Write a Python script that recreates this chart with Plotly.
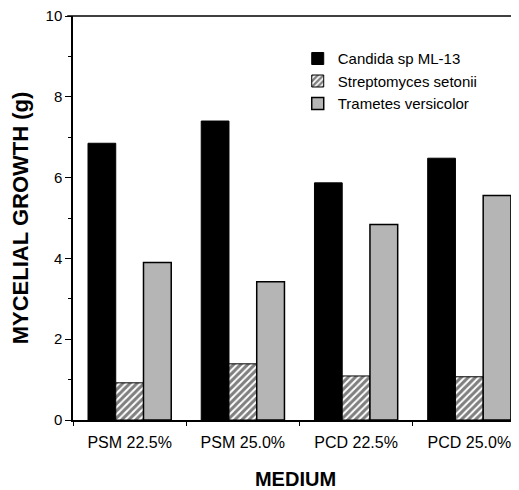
import plotly.graph_objects as go

categories = ["PSM 22.5%", "PSM 25.0%", "PCD 22.5%", "PCD 25.0%"]
candida = [6.85, 7.4, 5.87, 6.48]
streptomyces = [0.92, 1.39, 1.09, 1.07]
trametes = [3.9, 3.42, 4.84, 5.56]
series_names = ["Candida sp ML-13", "Streptomyces setonii", "Trametes versicolor"]
y_ticks = [0, 2, 4, 6, 8, 10]

FONT = "Liberation Sans, Arial, Helvetica, sans-serif"

fig = go.Figure()
fig.add_trace(go.Bar(
    x=categories, y=candida, name=series_names[0],
    marker=dict(color="black", line=dict(color="black", width=1)),
))
fig.add_trace(go.Bar(
    x=categories, y=streptomyces, name=series_names[1],
    marker=dict(color="white", line=dict(color="black", width=1),
                pattern=dict(shape="/", fgcolor="black", bgcolor="white",
                             size=5, solidity=0.6)),
))
fig.add_trace(go.Bar(
    x=categories, y=trametes, name=series_names[2],
    marker=dict(color="#b0b0b0", line=dict(color="black", width=1.5),
                pattern=dict(shape=".", fgcolor="#555555", bgcolor="#d0d0d0",
                             size=2, solidity=0.5)),
))

# page body has an 8px default margin, so the figure is sized to fit the window
fig.update_layout(
    width=511, height=482,
    margin=dict(l=65, r=1, t=8, b=70),
    paper_bgcolor="white", plot_bgcolor="white",
    barmode="group", bargap=0.265, bargroupgap=0,
    font=dict(family=FONT, color="black", size=14),
    showlegend=True,
    legend=dict(x=0.505, y=0.935, xanchor="left", yanchor="top",
                bgcolor="rgba(0,0,0,0)", font=dict(size=15, family=FONT),
                itemwidth=30, tracegroupgap=0),
    xaxis=dict(
        range=[-0.5, 3.43], showline=True, linecolor="black", linewidth=1.5,
        ticks="outside", tickson="boundaries", ticklen=4, tickcolor="black",
        showgrid=False, zeroline=False, automargin=False,
        tickfont=dict(size=16, family=FONT), ticklabelstandoff=7,
        title=dict(text="<b>MEDIUM</b>", font=dict(size=20, family=FONT), standoff=25),
    ),
    yaxis=dict(
        range=[0, 10], tickvals=y_ticks, showline=True, linecolor="black", linewidth=1.5,
        ticks="outside", ticklen=6, tickcolor="black", showgrid=False, zeroline=False,
        automargin=False, ticklabeloverflow="allow",
        tickfont=dict(size=15, family=FONT),
        minor=dict(dtick=1, ticks="outside", ticklen=3, tickcolor="black"),
        title=dict(text="<b>MYCELIAL GROWTH (g)</b>", font=dict(size=22, family=FONT), standoff=22),
    ),
    shapes=[dict(type="line", xref="paper", yref="paper", x0=-0.013, x1=1, y0=1, y1=1,
                 line=dict(color="black", width=1.5))],
)

fig.write_html("out.html")
